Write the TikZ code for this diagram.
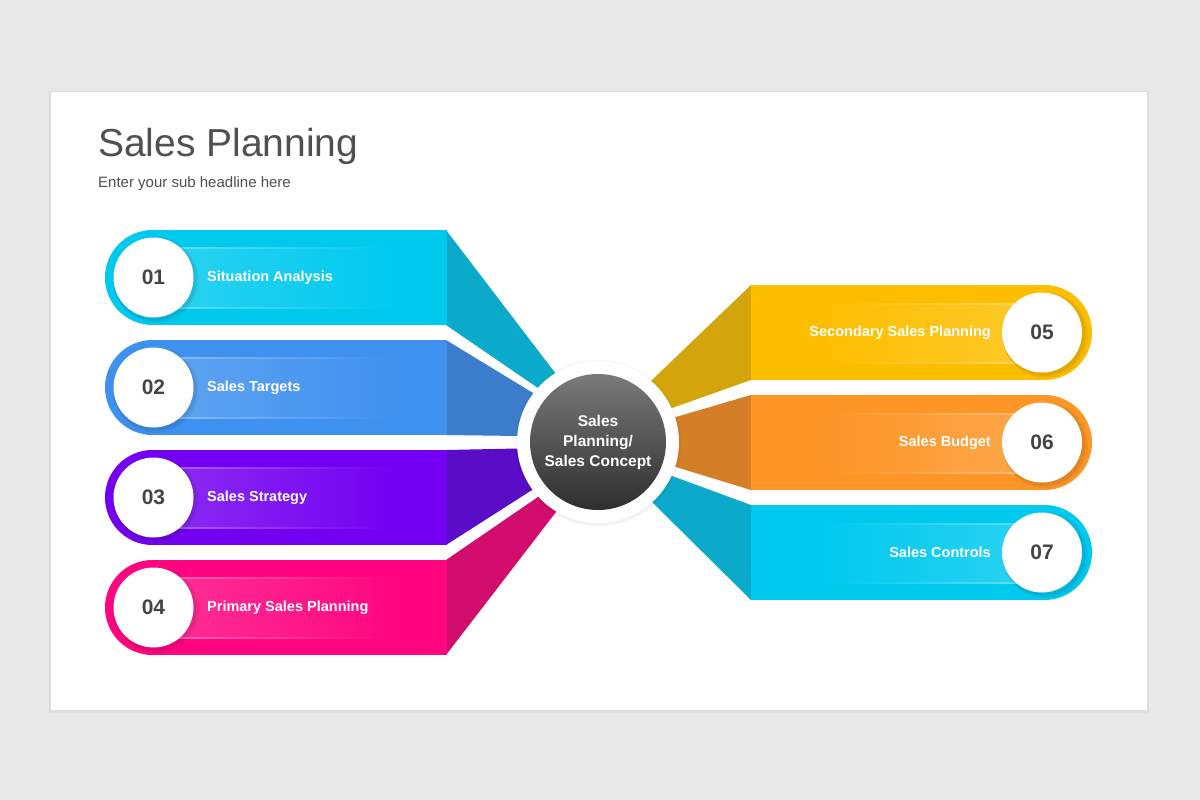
\documentclass[tikz,border=0pt]{standalone}
\usepackage{fontspec}
\setmainfont{Liberation Sans}
\definecolor{bg}{HTML}{E9E8E9}
\definecolor{cyanM}{HTML}{00C9EE}
\definecolor{cyanD}{HTML}{0BAACA}
\definecolor{blueM}{HTML}{3F91EF}
\definecolor{blueD}{HTML}{3B7CCB}
\definecolor{purM}{HTML}{7300F0}
\definecolor{purD}{HTML}{5A0CC6}
\definecolor{pinkM}{HTML}{FF0580}
\definecolor{pinkD}{HTML}{D20C6C}
\definecolor{yelM}{HTML}{FDBE00}
\definecolor{yelD}{HTML}{D4A40C}
\definecolor{oraM}{HTML}{FD9527}
\definecolor{oraD}{HTML}{D47E27}
\definecolor{numC}{HTML}{454545}
\definecolor{titleC}{HTML}{505050}
\definecolor{ctrTop}{HTML}{7A7A7A}
\definecolor{ctrBot}{HTML}{2E2E2E}
\tikzset{
  numcirc/.style={circle, fill=white, minimum size=80bp, inner sep=0pt, text=numC,
    font=\fontsize{21bp}{24bp}\selectfont\bfseries},
  bandlabel/.style={text=white, inner sep=0pt, font=\fontsize{14.5bp}{17bp}\selectfont\bfseries},
}
% #1 top y, #2 main colour, #3 dark colour, #4 bottom wedge point, #5 top wedge point,
% #6 number, #7 label, #8 index
\newcommand{\LBand}[8]{%
  \fill[#3] (446,#1) -- (446,#1+95) -- #4 -- (598,442) -- #5 -- cycle;
  \fill[#2] (152.5,#1+47.5) circle[radius=47.5bp];
  \fill[#2] (152.5,#1) rectangle (446.5,#1+95);
  \shade[left color=#2!84!white, right color=#2] (175,#1+17) rectangle (400,#1+78);
  \shade[left color=#2!62!white, right color=#2] (175,#1+17) rectangle (390,#1+18);
  \shade[left color=#2!62!white, right color=#2] (175,#1+77) rectangle (390,#1+78);
  \fill[black, opacity=0.05] (155.5,#1+50) circle[radius=43bp];
  \fill[black, opacity=0.06] (155,#1+49.5) circle[radius=41.5bp];
  \node[numcirc] (n#8) at (153.5,#1+47.5) {#6};
  \node[bandlabel, anchor=west] (l#8) at (207,#1+47.5) {#7};
}
\newcommand{\RBand}[8]{%
  \fill[#3] (751,#1) -- (751,#1+95) -- #4 -- (598,442) -- #5 -- cycle;
  \fill[#2] (1044.5,#1+47.5) circle[radius=47.5bp];
  \fill[#2] (750.5,#1) rectangle (1044.5,#1+95);
  \shade[left color=#2, right color=#2!84!white] (820,#1+18) rectangle (1025,#1+78);
  \shade[left color=#2, right color=#2!62!white] (830,#1+18) rectangle (1025,#1+19);
  \shade[left color=#2, right color=#2!62!white] (830,#1+77) rectangle (1025,#1+78);
  \fill[black, opacity=0.05] (1045,#1+50) circle[radius=43bp];
  \fill[black, opacity=0.06] (1044,#1+49.5) circle[radius=41.5bp];
  \node[numcirc] (n#8) at (1042,#1+47.5) {#6};
  \node[bandlabel, anchor=east] (l#8) at (991,#1+47.5) {#7};
}
\begin{document}
\begin{tikzpicture}[x=1bp, y=-1bp]
\useasboundingbox (0,0) rectangle (1200,800);
\fill[bg] (0,0) rectangle (1200,800);
\fill[black, opacity=0.04] (49,91) rectangle (1149,713);
\fill[white] (51,92) rectangle (1147,710);
% title
\node[anchor=base west, inner sep=0pt, text=titleC, font=\fontsize{39bp}{42bp}\selectfont] (title) at (98,156) {Sales Planning};
\node[anchor=base west, inner sep=0pt, text=titleC, font=\fontsize{15bp}{18bp}\selectfont] (sub) at (98,187.5) {Enter your sub headline here};
% left bands
\LBand{230}{cyanM}{cyanD}{(538,388)}{(556,374)}{01}{Situation Analysis}{1}
\LBand{340}{blueM}{blueD}{(518,436)}{(533,393)}{02}{Sales Targets}{2}
\LBand{450}{purM}{purD}{(532,490)}{(518,448.5)}{03}{Sales Strategy}{3}
\LBand{560}{pinkM}{pinkD}{(556,512)}{(538,497)}{04}{Primary Sales Planning}{4}
% right bands
\RBand{285}{yelM}{yelD}{(672,408)}{(652,380)}{05}{Secondary Sales Planning}{5}
\RBand{395}{oraM}{oraD}{(676,467)}{(676,417)}{06}{Sales Budget}{6}
\RBand{505}{cyanM}{cyanD}{(653,503)}{(672,476)}{07}{Sales Controls}{7}
% centre
\fill[black, opacity=0.025] (598,443) circle[radius=83.5bp];
\fill[black, opacity=0.03] (598,443) circle[radius=82.3bp];
\fill[white] (598,442) circle[radius=81bp];
\shade[top color=ctrTop, bottom color=ctrBot] (598,442) circle[radius=68bp];
\node[text=white, align=center, inner sep=0pt, font=\fontsize{15.5bp}{20bp}\selectfont\bfseries] (c) at (598,442) {Sales\\Planning/\\Sales Concept};
\end{tikzpicture}
\end{document}
